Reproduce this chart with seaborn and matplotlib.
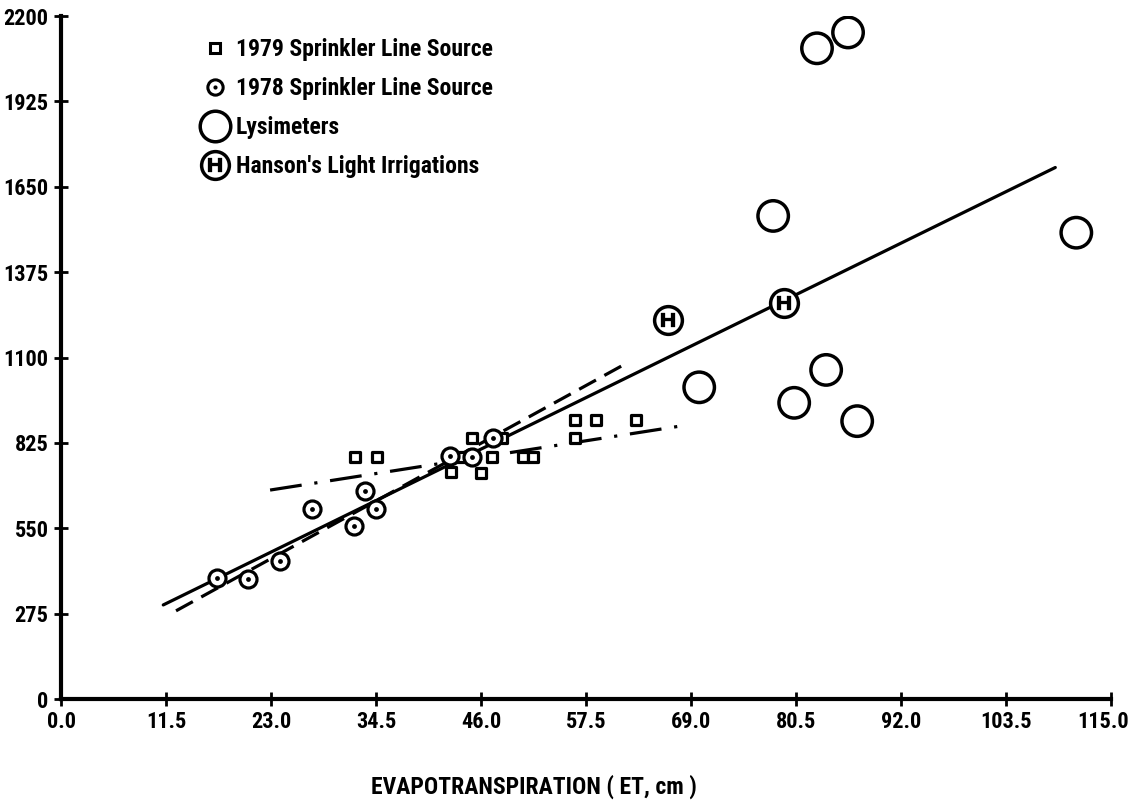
import matplotlib
matplotlib.use('Agg')
import matplotlib.pyplot as plt
import matplotlib.transforms as mtransforms
import seaborn as sns
from matplotlib import font_manager
from matplotlib.lines import Line2D
from matplotlib.legend_handler import HandlerTuple

# 1979 sprinkler line source (squares)
et_1979 = [32.2, 34.6, 42.7, 43.8, 45.0, 46.0, 47.2, 48.3, 50.6, 51.7, 56.3, 56.3, 58.6, 63.0]
y_1979 = [778, 778, 732, 780, 840, 729, 780, 840, 780, 780, 841, 899, 899, 899]

# 1978 sprinkler line source (dotted circles)
et_1978 = [17.1, 20.5, 24.0, 27.5, 32.1, 33.3, 34.5, 42.6, 45.0, 47.3]
y_1978 = [389, 387, 445, 612, 557, 671, 611, 784, 780, 840]

# lysimeters (large open circles)
et_lys = [82.8, 86.2, 78.0, 111.2, 69.9, 83.8, 80.3, 87.2]
y_lys = [2096, 2147, 1556, 1502, 1004, 1060, 954, 895]

# Hanson's light irrigations (circled H)
et_han = [66.5, 79.2]
y_han = [1221, 1276]

# fitted lines (end points)
solid_x = [11.2, 108.9]
solid_y = [303, 1712]
dash_x = [12.6, 61.6]
dash_y = [284, 1076]
dashdot_x = [22.9, 67.8]
dashdot_y = [673, 879]

xticks = [0.0, 11.5, 23.0, 34.5, 46.0, 57.5, 69.0, 80.5, 92.0, 103.5, 115.0]
yticks = [0, 275, 550, 825, 1100, 1375, 1650, 1925, 2200]

sns.set_style('white')
installed = {f.name for f in font_manager.fontManager.ttflist}
narrow = [n for n in ['Liberation Sans Narrow', 'DejaVu Sans Condensed',
                      'Roboto Condensed', 'Open Sans Condensed'] if n in installed]
if narrow:
    plt.rcParams['font.family'] = [narrow[0], 'DejaVu Sans']
    fs = 17
    tfs = 16
else:
    plt.rcParams['font.family'] = ['DejaVu Sans']
    fs = 14
    tfs = 13
plt.rcParams['font.weight'] = 'bold'
plt.rcParams['text.color'] = 'black'

fig = plt.figure(figsize=(11.3, 8.02), dpi=100)
ax = fig.add_axes([61 / 1130, 1 - 699 / 802, 1050 / 1130, 683 / 802])

sns.lineplot(x=solid_x, y=solid_y, color='black', linewidth=2.3, ax=ax)
sns.lineplot(x=dash_x, y=dash_y, color='black', linewidth=2.3, ax=ax)
ax.lines[-1].set_dashes((6, 3))
sns.lineplot(x=dashdot_x, y=dashdot_y, color='black', linewidth=2.3, ax=ax)
ax.lines[-1].set_dashes((10, 4, 1, 4))

sns.scatterplot(x=et_1979, y=y_1979, marker='s', s=45, facecolor='white',
                edgecolor='black', linewidth=2.3, ax=ax, zorder=3)
sns.scatterplot(x=et_1978, y=y_1978, marker='o', s=150, facecolor='white',
                edgecolor='black', linewidth=2.3, ax=ax, zorder=4)
sns.scatterplot(x=et_1978, y=y_1978, marker='o', s=12, color='black',
                linewidth=0, ax=ax, zorder=5)
sns.scatterplot(x=et_lys, y=y_lys, marker='o', s=480, facecolor='none',
                edgecolor='black', linewidth=2.5, ax=ax, zorder=4)
sns.scatterplot(x=et_han, y=y_han, marker='o', s=400, facecolor='white',
                edgecolor='black', linewidth=2.5, ax=ax, zorder=4)
sns.scatterplot(x=et_han, y=y_han, marker=r'$\mathsf{H}$', s=110, color='black',
                linewidth=0.2, edgecolor='black', ax=ax, zorder=5)

ax.set_xlim(0, 115)
ax.set_ylim(0, 2200)
ax.set_xticks(xticks)
ax.set_xticklabels(['%.1f' % v for v in xticks])
ax.set_yticks(yticks)
ax.set_yticklabels([str(v) for v in yticks])
ax.tick_params(direction='inout', length=10, width=2, labelsize=tfs, pad=4,
               bottom=True, left=True, colors='black')
# keep the last x label inside the figure
last = ax.get_xticklabels()[-1]
last.set_transform(last.get_transform() +
                   mtransforms.ScaledTranslation(-8 / 100, 0, fig.dpi_scale_trans))
for side in ['top', 'right']:
    ax.spines[side].set_visible(False)
for side in ['left', 'bottom']:
    ax.spines[side].set_linewidth(3)
    ax.spines[side].set_color('black')

ax.set_xlabel('EVAPOTRANSPIRATION ( ET, cm )', fontsize=fs, fontweight='bold',
              color='black')
ax.xaxis.set_label_coords(0.45, -0.11)

h_sq = Line2D([], [], marker='s', ls='', ms=6.5, mfc='white', mec='black', mew=2.2)
h_c1 = Line2D([], [], marker='o', ls='', ms=11, mfc='white', mec='black', mew=2.2)
h_c2 = Line2D([], [], marker='o', ls='', ms=3, mfc='black', mec='black', mew=0)
h_lys = Line2D([], [], marker='o', ls='', ms=22, mfc='white', mec='black', mew=2.5)
h_h1 = Line2D([], [], marker='o', ls='', ms=20, mfc='white', mec='black', mew=2.5)
h_h2 = Line2D([], [], marker=r'$\mathsf{H}$', ls='', ms=10.5, color='black', mew=0.2)
leg = ax.legend([h_sq, (h_c1, h_c2), h_lys, (h_h1, h_h2)],
                ['1979 Sprinkler Line Source', '1978 Sprinkler Line Source',
                 'Lysimeters', "Hanson's Light Irrigations"],
                handler_map={tuple: HandlerTuple(ndivide=1)},
                loc='upper left', bbox_to_anchor=(190 / 1130, 1 - 26 / 802),
                bbox_transform=fig.transFigure, frameon=False, fontsize=fs,
                handlelength=1.1, handletextpad=0.35, labelspacing=0.68, borderpad=0)
for t in leg.get_texts():
    t.set_fontweight('bold')
    t.set_color('black')

fig.savefig('out.png', dpi=100)
